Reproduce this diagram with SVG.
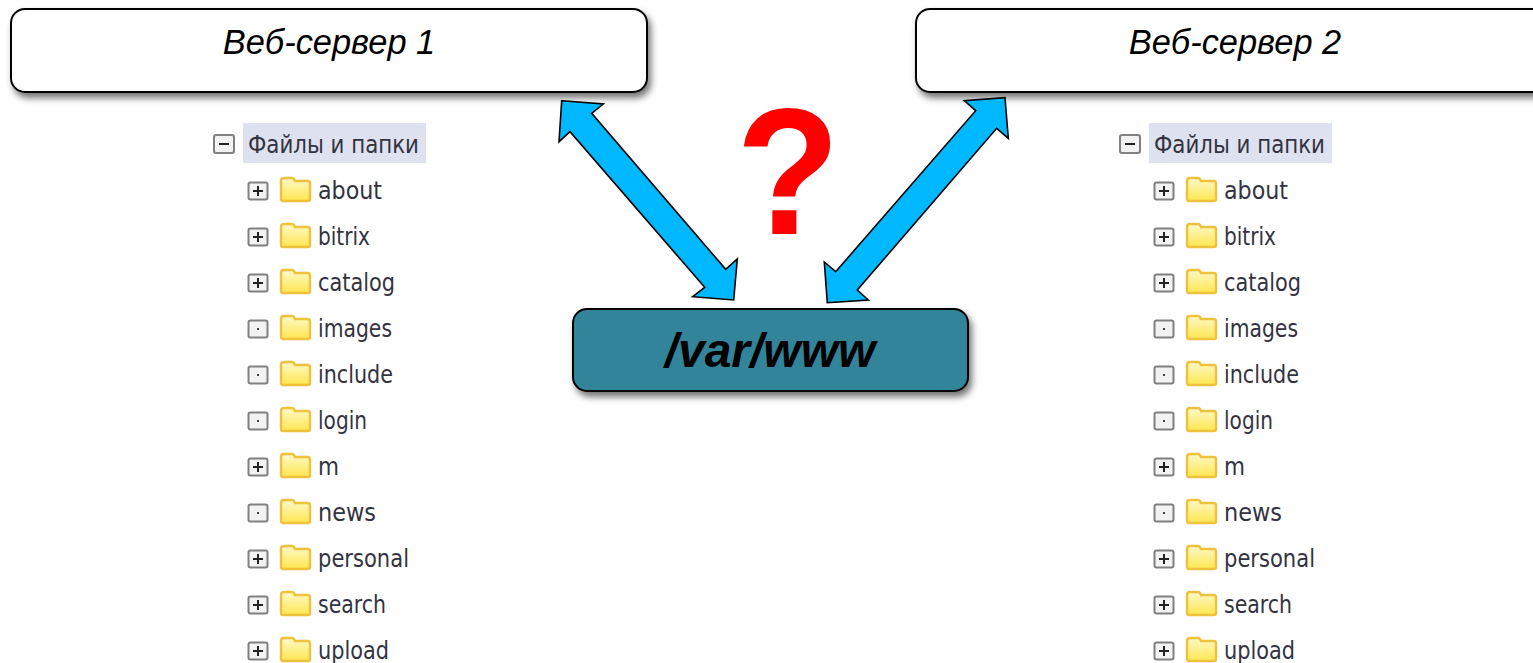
<svg xmlns="http://www.w3.org/2000/svg" width="1533" height="663" viewBox="0 0 1533 663">
<style>
.box{stroke:#000;stroke-width:2;filter:url(#sh)}
.w{fill:#fff}
.t{fill:#31849b}
.lab{font:italic 34.4px "Liberation Sans",Arial,sans-serif;fill:#000;text-anchor:middle}
.main{font:italic bold 48px "Liberation Sans",Arial,sans-serif;fill:#000;text-anchor:middle}
.q{font:bold 170px "Liberation Sans",Arial,sans-serif;fill:#f00;text-anchor:middle}
.arr{fill:#00b8ff;stroke:#000;stroke-width:1.6;stroke-linejoin:miter}
.f{font:25px "DejaVu Sans Condensed","DejaVu Sans",sans-serif;fill:#33333f}
.hl{fill:#dde1f0}
.tb{fill:#f2f2f2;stroke:#808080;stroke-width:2}
.tm{stroke:#222;stroke-width:2;fill:none}
.tmf{stroke:#444;stroke-width:2;fill:none}
</style>
<defs>
<filter id="sh" x="-5%" y="-20%" width="110%" height="145%"><feDropShadow dx="3" dy="5" stdDeviation="3.5" flood-color="#000" flood-opacity="0.55"/></filter>
<linearGradient id="fg" x1="0" y1="0" x2="0" y2="1"><stop offset="0" stop-color="#fff9c8"/><stop offset="1" stop-color="#ffe650"/></linearGradient>
<g id="folder">
<path d="M1 6q0-3 3-3h8q2 0 3 3h13q2 0 2 3v15q0 2-2 2H3q-2 0-2-2z" fill="url(#fg)" stroke="#eec23c" stroke-width="2.4"/>
</g>
<g id="plus"><rect class="tb" x="-9.500" y="-8.500" width="19" height="17" rx="2"/><path class="tm" d="M-5 0h10M0-5v10"/></g>
<g id="dot"><rect class="tb" x="-9.500" y="-8.500" width="19" height="17" rx="2"/><path class="tmf" d="M-1 0h2"/></g>
<g id="minus"><rect class="tb" x="-10" y="-9" width="20" height="18" rx="2"/><path class="tm" d="M-5 0h10"/></g>
</defs>
<rect width="1533" height="663" fill="#fff"/>

<g id="server1"><rect class="box w" x="11" y="9" width="636" height="83" rx="14"/><text class="lab" x="329" y="54">Веб-сервер 1</text></g>
<g id="server2"><rect class="box w" x="916" y="9" width="640" height="83" rx="14"/><text class="lab" x="1235" y="54">Веб-сервер 2</text></g>
<g id="storage"><rect class="box t" x="573" y="309" width="395" height="82" rx="14"/><text class="main" x="770" y="367">/var/www</text></g>
<g id="question"><text class="q" transform="translate(788 234) scale(1 1.06)">?</text></g>

<g id="connectors">
<path class="arr" d="M561.7 100.7L603.3 104L591.7 113.3L725.7 269.3L737.3 259L733.7 300L692.7 296.7L704.7 287.3L570 131.7L559 141.7Z"/>
<path class="arr" d="M1005 97.7L1008.3 138.3L996.7 128.3L857.3 290L868.3 300L827.3 302.7L824.3 262L835.7 271.7L975.7 110.7L964.3 100.7Z"/>
</g>

<g id="tree1">
<rect class="hl" x="243" y="123" width="183" height="40"/>
<use href="#minus" x="224" y="144"/>
<text class="f" x="248" y="153" textLength="171" lengthAdjust="spacingAndGlyphs">Файлы и папки</text>
<use href="#plus" x="258" y="191"/><use href="#folder" x="280" y="175"/><text class="f" x="318" y="199" textLength="64" lengthAdjust="spacingAndGlyphs">about</text>
<use href="#plus" x="258" y="237"/><use href="#folder" x="280" y="221"/><text class="f" x="318" y="245" textLength="52" lengthAdjust="spacingAndGlyphs">bitrix</text>
<use href="#plus" x="258" y="283"/><use href="#folder" x="280" y="267"/><text class="f" x="318" y="291" textLength="77" lengthAdjust="spacingAndGlyphs">catalog</text>
<use href="#dot" x="258" y="329"/><use href="#folder" x="280" y="313"/><text class="f" x="318" y="337" textLength="74" lengthAdjust="spacingAndGlyphs">images</text>
<use href="#dot" x="258" y="375"/><use href="#folder" x="280" y="359"/><text class="f" x="318" y="383" textLength="75" lengthAdjust="spacingAndGlyphs">include</text>
<use href="#dot" x="258" y="421"/><use href="#folder" x="280" y="405"/><text class="f" x="318" y="429" textLength="49" lengthAdjust="spacingAndGlyphs">login</text>
<use href="#plus" x="258" y="467"/><use href="#folder" x="280" y="451"/><text class="f" x="318" y="475" textLength="21" lengthAdjust="spacingAndGlyphs">m</text>
<use href="#dot" x="258" y="513"/><use href="#folder" x="280" y="497"/><text class="f" x="318" y="521" textLength="58" lengthAdjust="spacingAndGlyphs">news</text>
<use href="#plus" x="258" y="559"/><use href="#folder" x="280" y="543"/><text class="f" x="318" y="567" textLength="91" lengthAdjust="spacingAndGlyphs">personal</text>
<use href="#plus" x="258" y="605"/><use href="#folder" x="280" y="589"/><text class="f" x="318" y="613" textLength="68" lengthAdjust="spacingAndGlyphs">search</text>
<use href="#plus" x="258" y="651"/><use href="#folder" x="280" y="635"/><text class="f" x="318" y="659" textLength="71" lengthAdjust="spacingAndGlyphs">upload</text>
</g>

<g id="tree2">
<rect class="hl" x="1149" y="123" width="183" height="40"/>
<use href="#minus" x="1130" y="144"/>
<text class="f" x="1154" y="153" textLength="171" lengthAdjust="spacingAndGlyphs">Файлы и папки</text>
<use href="#plus" x="1164" y="191"/><use href="#folder" x="1186" y="175"/><text class="f" x="1224" y="199" textLength="64" lengthAdjust="spacingAndGlyphs">about</text>
<use href="#plus" x="1164" y="237"/><use href="#folder" x="1186" y="221"/><text class="f" x="1224" y="245" textLength="52" lengthAdjust="spacingAndGlyphs">bitrix</text>
<use href="#plus" x="1164" y="283"/><use href="#folder" x="1186" y="267"/><text class="f" x="1224" y="291" textLength="77" lengthAdjust="spacingAndGlyphs">catalog</text>
<use href="#dot" x="1164" y="329"/><use href="#folder" x="1186" y="313"/><text class="f" x="1224" y="337" textLength="74" lengthAdjust="spacingAndGlyphs">images</text>
<use href="#dot" x="1164" y="375"/><use href="#folder" x="1186" y="359"/><text class="f" x="1224" y="383" textLength="75" lengthAdjust="spacingAndGlyphs">include</text>
<use href="#dot" x="1164" y="421"/><use href="#folder" x="1186" y="405"/><text class="f" x="1224" y="429" textLength="49" lengthAdjust="spacingAndGlyphs">login</text>
<use href="#plus" x="1164" y="467"/><use href="#folder" x="1186" y="451"/><text class="f" x="1224" y="475" textLength="21" lengthAdjust="spacingAndGlyphs">m</text>
<use href="#dot" x="1164" y="513"/><use href="#folder" x="1186" y="497"/><text class="f" x="1224" y="521" textLength="58" lengthAdjust="spacingAndGlyphs">news</text>
<use href="#plus" x="1164" y="559"/><use href="#folder" x="1186" y="543"/><text class="f" x="1224" y="567" textLength="91" lengthAdjust="spacingAndGlyphs">personal</text>
<use href="#plus" x="1164" y="605"/><use href="#folder" x="1186" y="589"/><text class="f" x="1224" y="613" textLength="68" lengthAdjust="spacingAndGlyphs">search</text>
<use href="#plus" x="1164" y="651"/><use href="#folder" x="1186" y="635"/><text class="f" x="1224" y="659" textLength="71" lengthAdjust="spacingAndGlyphs">upload</text>
</g>
</svg>
